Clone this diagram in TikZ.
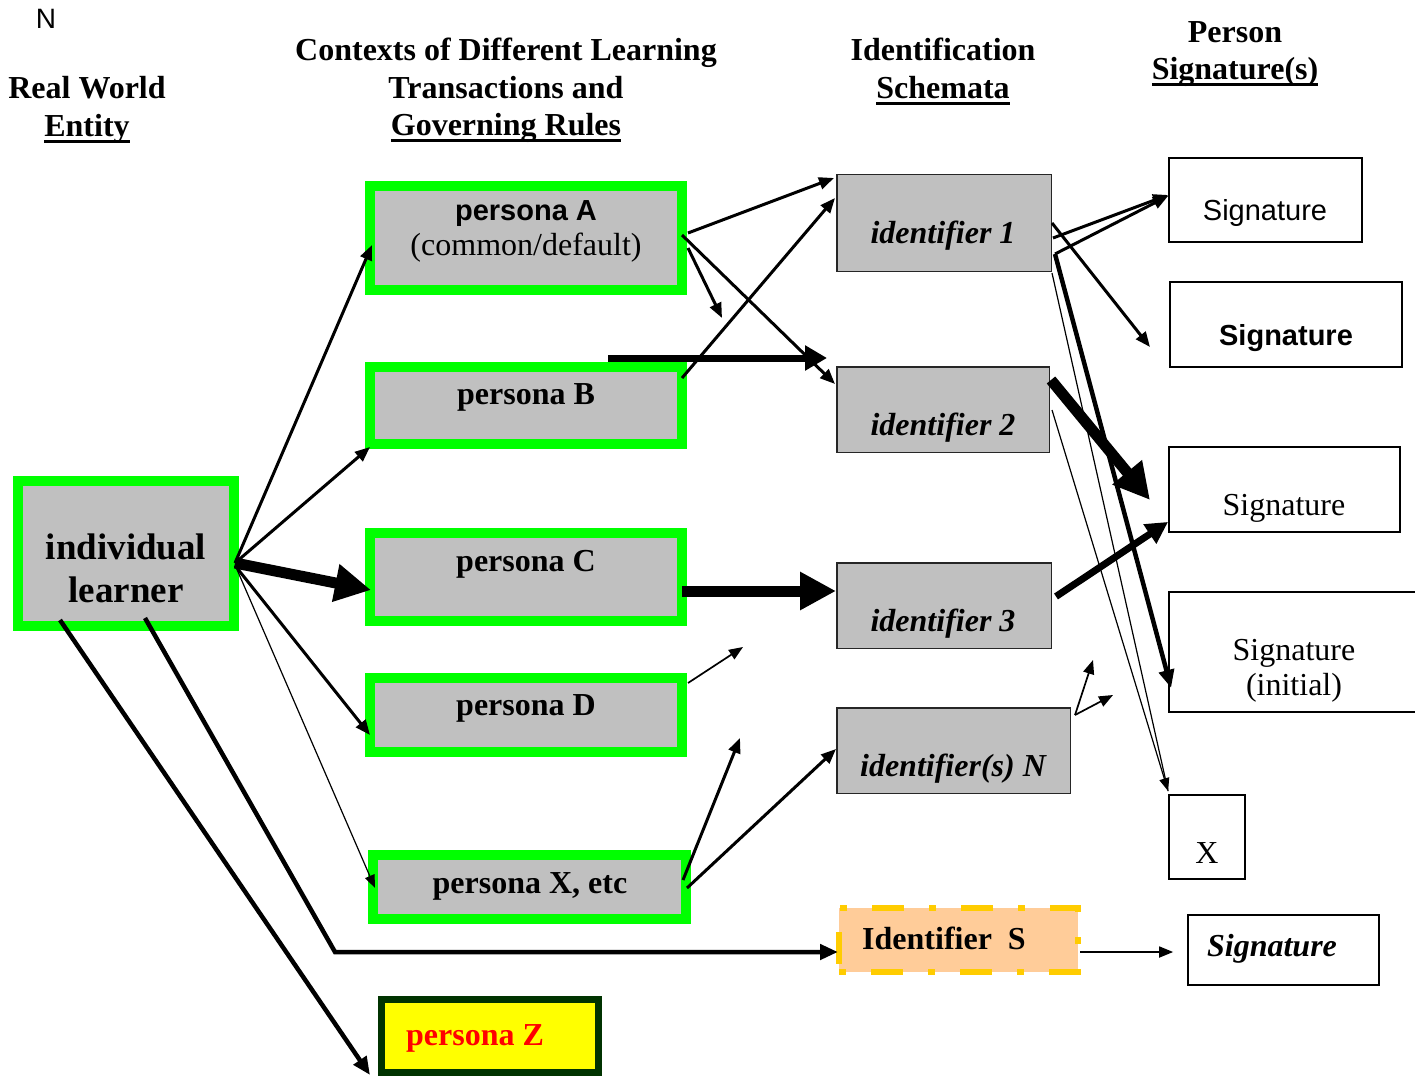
\documentclass[tikz,border=0pt]{standalone}
\usepackage{fontspec}
\setmainfont{Liberation Serif}
\newfontfamily\arialf{Liberation Sans}
\usetikzlibrary{arrows.meta,calc}
\definecolor{lgreen}{HTML}{00FF00}
\definecolor{boxgray}{HTML}{C0C0C0}
\definecolor{peach}{HTML}{FFCC99}
\definecolor{gold}{HTML}{FFCC00}
\definecolor{dkgreen}{HTML}{003300}
\definecolor{zred}{HTML}{FF0000}
\definecolor{zyellow}{HTML}{FFFF00}
\newcommand\hul[1]{\setbox0\hbox{#1}\rlap{\rule[-6pt]{\wd0}{3pt}}\box0}
\begin{document}
\begin{tikzpicture}[x=1pt,y=-1pt,
  txt/.style={inner sep=0pt, anchor=base},
  hd/.style={txt, font=\fontsize{32}{37}\selectfont\bfseries},
  ser/.style={txt, font=\fontsize{32}{37}\selectfont},
  serb/.style={txt, font=\fontsize{32}{37}\selectfont\bfseries},
  bigb/.style={txt, font=\fontsize{37}{42}\selectfont\bfseries},
  sansb/.style={txt, font=\arialf\bfseries\fontsize{29}{34}\selectfont},
  sans/.style={txt, font=\arialf\fontsize{29}{34}\selectfont},
  idt/.style={txt, font=\fontsize{32}{37}\selectfont\bfseries\itshape},
  gbox/.style={draw=lgreen, line width=10pt, fill=boxgray, inner sep=0pt},
  ibox/.style={draw=black!85, line width=1.5pt, fill=boxgray, inner sep=0pt},
  sbox/.style={draw=black, line width=1.8pt, fill=white, inner sep=0pt},
  ar/.style={line width=3pt, -{Triangle[length=15pt,width=12pt]}},
  arthin/.style={line width=1.2pt, -{Triangle[length=13pt,width=10pt]}},
  armid/.style={line width=1.7pt, -{Triangle[length=14pt,width=11pt]}},
  arfour/.style={line width=4.5pt, -{Triangle[length=18pt,width=15pt]}},
  arbig/.style={line width=7pt, -{Triangle[length=22pt,width=22pt]}},
  arfat/.style={line width=11pt, -{Triangle[length=36pt,width=36pt]}},
]
\useasboundingbox (0,0) rectangle (1415,1078);

% headers
\node[txt, font=\arialf\fontsize{28}{32}\selectfont] (hN) at (46,29) {N};
\node[hd] (h1a) at (87,99) {Real World};
\node[hd] (h1b) at (87,137) {\hul{Entity}};
\node[hd] (h2a) at (506,61) {Contexts of Different Learning};
\node[hd] (h2b) at (506,99) {Transactions and};
\node[hd] (h2c) at (506,136) {\hul{Governing Rules}};
\node[hd] (h3a) at (943,61) {Identification};
\node[hd] (h3b) at (943,99) {\hul{Schemata}};
\node[hd] (h4a) at (1235,43) {Person};
\node[hd] (h4b) at (1235,80) {\hul{Signature(s)}};

% green boxes
\node[gbox, minimum width=216pt, minimum height=145pt] (learner) at (126,553.5) {};
\node[bigb] (lt1) at (126,559) {individual};
\node[bigb] (lt2) at (126,602) {learner};

\node[gbox, minimum width=312pt, minimum height=104pt] (pA) at (526,238) {};
\node[sansb] (pAt1) at (526,220) {persona A};
\node[ser] (pAt2) at (526,255) {(common/default)};

\node[gbox, minimum width=312pt, minimum height=77pt] (pB) at (526,405.5) {};
\node[serb] (pBt) at (526,404) {persona B};

\node[gbox, minimum width=312pt, minimum height=88pt] (pC) at (526,577) {};
\node[serb] (pCt) at (526,571) {persona C};

\node[gbox, minimum width=312pt, minimum height=74pt] (pD) at (526,715) {};
\node[serb] (pDt) at (526,715) {persona D};

\node[gbox, minimum width=313pt, minimum height=64pt] (pX) at (529.5,887) {};
\node[serb] (pXt) at (530,893) {persona X, etc};

\node[draw=dkgreen, line width=7pt, fill=zyellow, inner sep=0pt, minimum width=217pt, minimum height=73pt] (pZ) at (490,1036) {};
\node[serb, text=zred] (pZt) at (475,1045) {persona Z};

% identifier boxes
\node[ibox, minimum width=214.5pt, minimum height=96.5pt] (id1) at (944,223) {};
\node[idt] (id1t) at (943,243) {identifier 1};
\node[ibox, minimum width=212.5pt, minimum height=85.5pt] (id2) at (943,409.5) {};
\node[idt] (id2t) at (943,435) {identifier 2};
\node[ibox, minimum width=214.5pt, minimum height=85.5pt] (id3) at (944,605.5) {};
\node[idt] (id3t) at (943,631) {identifier 3};
\node[ibox, minimum width=233.5pt, minimum height=85.5pt] (idN) at (953.5,750.5) {};
\node[idt] (idNt) at (953,776) {identifier(s) \textit{N}};

\node[draw=gold, fill=peach, line width=6pt, dash pattern=on 7pt off 25pt on 32pt off 25pt,
      inner sep=0pt, minimum width=239pt, minimum height=64pt] (idS) at (958.5,940) {};
\node[serb] (idSt) at (944,949) {Identifier\ \ S};

% signature boxes
\node[sbox, minimum width=193pt, minimum height=84pt] (s1) at (1265.5,200) {};
\node[sans] (s1t) at (1265,220) {Signature};
\node[sbox, minimum width=232pt, minimum height=85pt] (s2) at (1286,324.5) {};
\node[sansb] (s2t) at (1286,345) {Signature};
\node[sbox, minimum width=231pt, minimum height=85pt] (s3) at (1284.5,489.5) {};
\node[ser] (s3t) at (1284,515) {Signature};
\node[sbox, minimum width=255pt, minimum height=120pt] (s4) at (1296.5,652) {};
\node[ser] (s4t1) at (1294,660) {Signature};
\node[ser] (s4t2) at (1294,695) {(initial)};
\node[sbox, minimum width=76pt, minimum height=84pt] (sX) at (1207,837) {};
\node[ser] (sXt) at (1207,863) {X};
\node[sbox, line width=2.2pt, minimum width=190.5pt, minimum height=69.5pt] (sS) at (1283.5,950) {};
\node[idt] (sSt) at (1272,956) {Signature};

% free arrow ends
\coordinate (fA) at (722,318);
\coordinate (fH1) at (608,358);
\coordinate (fH2) at (827,358);
\coordinate (fD) at (743,647);
\coordinate (fX) at (740,738);
\coordinate (fN1) at (1093,660);
\coordinate (fN2) at (1113,695);
\coordinate (f2a) at (1150,347);
\coordinate (f2b) at (1150,500);

% learner fan-out
\draw[ar] ($(learner.east)+(-4,9.5)$) -- ($(pA.west)+(7,7)$);
\draw[ar] ($(learner.east)+(-4,9.5)$) -- ($(pB.south west)+(5,-2)$);
\draw[arfat] ($(learner.east)+(-4,9.5)$) -- ($(pC.west)+(6,13)$);
\draw[ar] ($(learner.east)+(-4,12)$) -- ($(pD.west)+(5,20)$);
\draw[arthin] ($(learner.east)+(-2,16)$) -- ($(pX.west)+(7,1)$);
\draw[arfour] ($(learner.south west)+(47,-11)$) -- ($(pZ.south west)+(-8,-1)$);
\draw[arfour] ($(learner.south west)+(132,-13)$) -- (335,952) -- ($(idS.west)+(2,12)$);

% persona -> identifier
\draw[ar] ($(pA.east)+(1,-5)$) -- ($(id1.north west)+(-2,4)$);
\draw[ar] ($(pA.east)+(-5,-3)$) -- ($(id2.north west)+(-1,18)$);
\draw[ar] ($(pA.east)+(1,10)$) -- (fA);
\draw[ar] ($(pB.north east)+(-5,16)$) -- ($(id1.north west)+(-1,24)$);
\draw[line width=7pt, -{Triangle[length=22pt,width=24pt]}] (fH1) -- (fH2);
\draw[arfat] ($(pC.east)+(-5,14)$) -- ($(id3.west)+(0,-14.5)$);
\draw[armid] ($(pD.north east)+(1,10)$) -- (fD);
\draw[ar] ($(pX.east)+(-8,-7)$) -- (fX);
\draw[ar] ($(pX.east)+(-4,1)$) -- ($(idN.west)+(0,-1.5)$);

% identifier -> signature
\draw[ar] ($(id1.east)+(1,15)$) -- ($(s1.west)+(0,-5)$);
\draw[ar] ($(id1.east)+(3,31)$) -- ($(s1.west)+(0,-4)$);
\draw[ar] ($(id1.east)+(0,0)$) -- (f2a);
\draw[arfour] ($(id1.east)+(3,31)$) -- ($(s4.south west)+(3,-25)$);
\draw[line width=1.2pt] ($(id1.east)+(0,50)$) -- ($(sX.north west)+(0,-3)$);
\draw[arthin] ($(id2.east)+(2,0.5)$) -- ($(sX.north west)+(0,-3)$);
\draw[arfat] ($(id2.north east)+(1,14)$) -- (f2b);
\draw[arbig] ($(id3.east)+(4,-9)$) -- ($(s3.south west)+(0,-11)$);
\draw[armid] ($(idN.north east)+(4,8)$) -- (fN1);
\draw[armid] ($(idN.north east)+(4,8)$) -- (fN2);
\draw[armid] ($(idS.east)+(-1,12)$) -- ($(sS.west)+(-14,2)$);
\end{tikzpicture}
\end{document}
